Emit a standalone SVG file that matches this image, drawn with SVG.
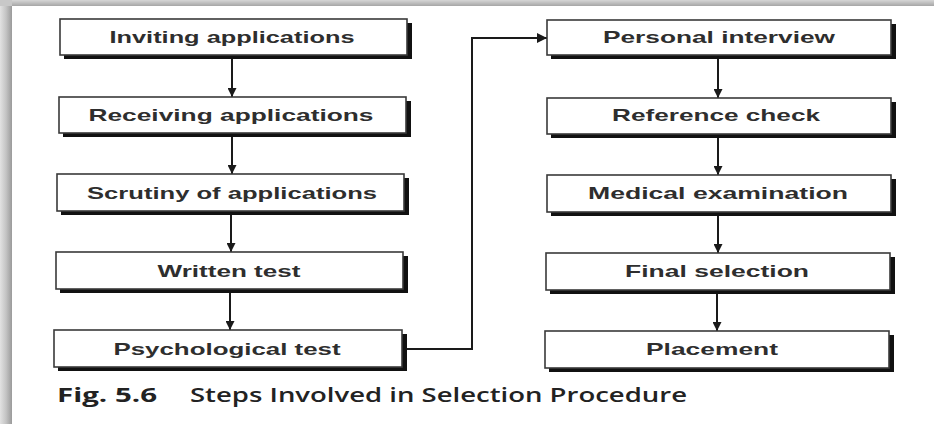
<svg xmlns="http://www.w3.org/2000/svg" width="934" height="424" viewBox="0 0 934 424">
  <defs>
    <linearGradient id="gl" x1="0" y1="0" x2="1" y2="0">
      <stop offset="0" stop-color="#e2e2e2"/>
      <stop offset="0.5" stop-color="#c4c4c4"/>
      <stop offset="1" stop-color="#9a9a9a"/>
    </linearGradient>
    <linearGradient id="gt" x1="0" y1="0" x2="0" y2="1">
      <stop offset="0" stop-color="#d6d6d6"/>
      <stop offset="1" stop-color="#a6a6a6"/>
    </linearGradient>
    <marker id="ah" viewBox="0 0 10 10" refX="10" refY="5" markerWidth="9" markerHeight="9" markerUnits="userSpaceOnUse" orient="auto">
      <path d="M0,0 L10,5 L0,10 Z" fill="#1a1a1a"/>
    </marker>
    <marker id="ahd" viewBox="0 0 10 10" refX="10" refY="5" markerWidth="10" markerHeight="10" markerUnits="userSpaceOnUse" orient="auto">
      <path d="M0,0 L10,5 L0,10 Z" fill="#1a1a1a"/>
    </marker>
  </defs>
  <style>
    .sh { fill: #111; }
    .bx { fill: #fff; stroke: #3a3a3a; stroke-width: 1.6; }
    .tx { font-family: "Liberation Sans", Arial, sans-serif; font-weight: bold; font-size: 17px; fill: #2e2e2e; text-anchor: middle; }
    .ln { fill: none; stroke: #1a1a1a; stroke-width: 2; }
    .cap { font-family: "Open Sans", "Noto Sans", sans-serif; font-size: 19px; fill: #222; }
  </style>

  <rect x="0" y="0" width="934" height="424" fill="#fff"/>
  <rect x="0" y="0" width="12" height="424" fill="url(#gl)"/>
  <rect x="0" y="0" width="934" height="6" fill="url(#gt)"/>
  <rect x="0" y="0" width="12" height="6" fill="#c8c8c8"/>

  <g id="connectors">
    <line class="ln" x1="232" y1="58" x2="232" y2="97" marker-end="url(#ah)"/>
    <line class="ln" x1="232" y1="136" x2="232" y2="174" marker-end="url(#ah)"/>
    <line class="ln" x1="231" y1="214" x2="231" y2="252" marker-end="url(#ah)"/>
    <line class="ln" x1="230" y1="292" x2="230" y2="330" marker-end="url(#ah)"/>
    <line class="ln" x1="718" y1="58" x2="718" y2="98" marker-end="url(#ah)"/>
    <line class="ln" x1="718" y1="137" x2="718" y2="175" marker-end="url(#ah)"/>
    <line class="ln" x1="718" y1="215" x2="718" y2="253" marker-end="url(#ah)"/>
    <line class="ln" x1="717" y1="293" x2="717" y2="331" marker-end="url(#ah)"/>
    <polyline class="ln" points="407,349 472,349 472,38 547,38" marker-end="url(#ahd)"/>
  </g>

  <g id="n1">
    <rect class="sh" x="64" y="23" width="348" height="36"/>
    <rect class="bx" x="60" y="19" width="347" height="36"/>
    <text class="tx" x="232" y="43" textLength="245" lengthAdjust="spacingAndGlyphs">Inviting applications</text>
  </g>
  <g id="n2">
    <rect class="sh" x="63" y="101" width="348" height="36"/>
    <rect class="bx" x="59" y="97" width="347" height="36"/>
    <text class="tx" x="231" y="121" textLength="285" lengthAdjust="spacingAndGlyphs">Receiving applications</text>
  </g>
  <g id="n3">
    <rect class="sh" x="61" y="178" width="348" height="37"/>
    <rect class="bx" x="57" y="174" width="347" height="37"/>
    <text class="tx" x="232" y="199" textLength="290" lengthAdjust="spacingAndGlyphs">Scrutiny of applications</text>
  </g>
  <g id="n4">
    <rect class="sh" x="60" y="256" width="348" height="37"/>
    <rect class="bx" x="56" y="252" width="347" height="37"/>
    <text class="tx" x="229" y="277" textLength="143" lengthAdjust="spacingAndGlyphs">Written test</text>
  </g>
  <g id="n5">
    <rect class="sh" x="58" y="334" width="349" height="37"/>
    <rect class="bx" x="54" y="330" width="348" height="37"/>
    <text class="tx" x="227" y="355" textLength="227" lengthAdjust="spacingAndGlyphs">Psychological test</text>
  </g>

  <g id="n6">
    <rect class="sh" x="551" y="24" width="345" height="35"/>
    <rect class="bx" x="547" y="20" width="344" height="35"/>
    <text class="tx" x="719" y="43" textLength="232" lengthAdjust="spacingAndGlyphs">Personal interview</text>
  </g>
  <g id="n7">
    <rect class="sh" x="551" y="102" width="345" height="36"/>
    <rect class="bx" x="547" y="98" width="344" height="36"/>
    <text class="tx" x="716" y="121" textLength="208" lengthAdjust="spacingAndGlyphs">Reference check</text>
  </g>
  <g id="n8">
    <rect class="sh" x="551" y="179" width="345" height="37"/>
    <rect class="bx" x="547" y="175" width="344" height="37"/>
    <text class="tx" x="718" y="199" textLength="260" lengthAdjust="spacingAndGlyphs">Medical examination</text>
  </g>
  <g id="n9">
    <rect class="sh" x="550" y="257" width="345" height="37"/>
    <rect class="bx" x="546" y="253" width="344" height="37"/>
    <text class="tx" x="717" y="277" textLength="184" lengthAdjust="spacingAndGlyphs">Final selection</text>
  </g>
  <g id="n10">
    <rect class="sh" x="549" y="335" width="345" height="37"/>
    <rect class="bx" x="545" y="331" width="344" height="37"/>
    <text class="tx" x="712" y="355" textLength="132" lengthAdjust="spacingAndGlyphs">Placement</text>
  </g>

  <g id="caption">
    <text class="cap" x="57" y="402" font-weight="bold" textLength="100" lengthAdjust="spacingAndGlyphs">Fig. 5.6</text>
    <text class="cap" x="190" y="402" font-weight="600" textLength="497" lengthAdjust="spacingAndGlyphs">Steps Involved in Selection Procedure</text>
  </g>
</svg>
